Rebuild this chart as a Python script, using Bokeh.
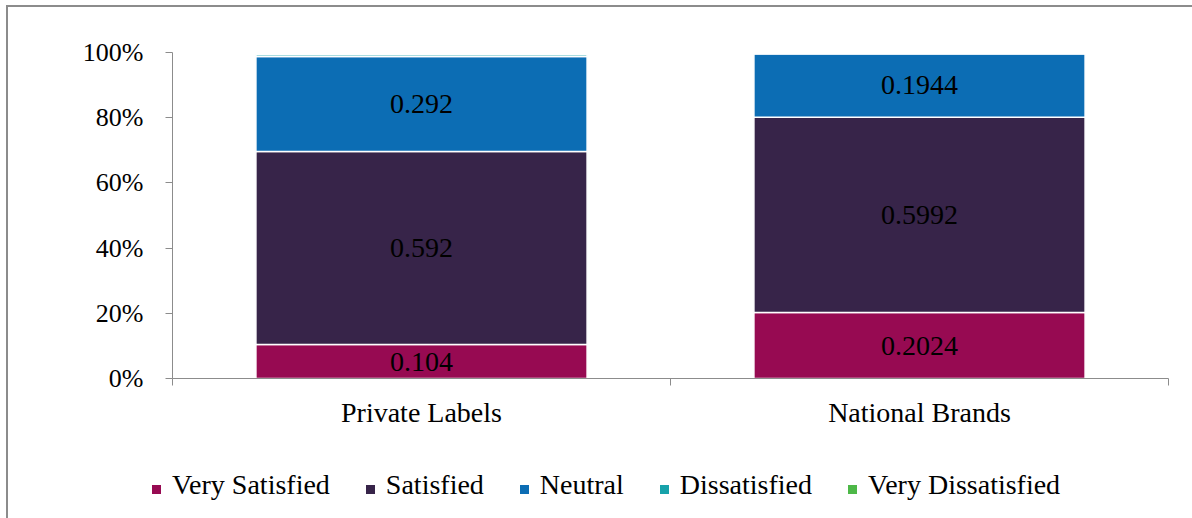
from bokeh.plotting import figure
from bokeh.layouts import column
from bokeh.models import ColumnDataSource, FixedTicker, NumeralTickFormatter, Div
from bokeh.core.properties import value
from bokeh.embed import file_html
from bokeh.resources import INLINE

# Satisfaction shares by brand type
categories = ["Private Labels", "National Brands"]
levels = ["Very Satisfied", "Satisfied", "Neutral", "Dissatisfied", "Very Dissatisfied"]
very_satisfied = [0.104, 0.2024]
satisfied = [0.592, 0.5992]
neutral = [0.292, 0.1944]
dissatisfied = [0.006, 0.0]
very_dissatisfied = [0.0, 0.0]
y_ticks = [0, 0.2, 0.4, 0.6, 0.8, 1.0]

colors = ["#970A52", "#372449", "#0C6DB4", "#17A2AA", "#4DB848"]
FONT = "Liberation Serif"
axis_color = "#8C8C8C"

series = [very_satisfied, satisfied, neutral, dissatisfied, very_dissatisfied]
xs = [i + 0.5 for i in range(len(categories))]
data = {"x": xs}
for name, vals in zip(levels, series):
    data[name] = vals
source = ColumnDataSource(data)

p = figure(width=1184, height=441, x_range=(0, 2), y_range=(0, 1),
           output_backend="svg", toolbar_location=None,
           min_border_left=164, min_border_right=24,
           min_border_top=45, min_border_bottom=70)
p.outline_line_color = None
p.grid.grid_line_color = None

p.vbar_stack(levels, x="x", width=0.665, source=source,
             fill_color=colors, line_color="white", line_width=1.5)

# value labels centred in the three main segments
lx, ly, lt = [], [], []
for i, x in enumerate(xs):
    base = 0.0
    for vals in series[:3]:
        v = vals[i]
        lx.append(x)
        ly.append(base + v / 2)
        lt.append(str(v))
        base += v

p.text(x=lx, y=ly, text=lt, text_align="center", text_baseline="middle",
       text_font=value(FONT), text_font_size="28px", text_color="black")

# category axis: labels at bar centres, ticks at category boundaries
xa = p.xaxis[0]
xa.ticker = FixedTicker(ticks=xs, minor_ticks=[0, 1, 2])
xa.major_label_overrides = {x: c for x, c in zip(xs, categories)}
xa.major_tick_line_color = None
xa.major_tick_out = 0
xa.minor_tick_line_color = axis_color
xa.minor_tick_out = 7
xa.minor_tick_in = 0
xa.axis_line_color = axis_color
xa.major_label_text_font = FONT
xa.major_label_text_font_size = "28px"
xa.major_label_text_color = "black"
xa.major_label_standoff = 11

ya = p.yaxis[0]
ya.ticker = FixedTicker(ticks=y_ticks)
ya.formatter = NumeralTickFormatter(format="0%")
ya.axis_line_color = axis_color
ya.major_tick_line_color = axis_color
ya.major_tick_out = 7
ya.major_tick_in = 0
ya.minor_tick_line_color = None
ya.major_label_text_font = FONT
ya.major_label_text_font_size = "26px"
ya.major_label_text_color = "black"
ya.major_label_standoff = 22

# legend strip beneath the chart
items = "".join(
    f'<span style="display:inline-flex;align-items:baseline;margin-right:36px;">'
    f'<span style="display:inline-block;width:9px;height:9px;background:{c};'
    f'margin-right:11px;"></span>{n}</span>'
    for n, c in zip(levels, colors))
legend_html = (f'<div style="font-family:\'{FONT}\';font-size:28px;line-height:28px;'
               f'color:black;white-space:nowrap;padding:23px 0 0 144px;">{items}</div>')
legend = Div(text=legend_html, width=1184, height=70, margin=0)

layout = column(p, legend, spacing=0, margin=(5, 0, 0, 6),
                styles={"border-top": "2px solid #8C8C8C",
                        "border-left": "2px solid #8C8C8C"})

open("out.html", "w").write(file_html(layout, INLINE))
